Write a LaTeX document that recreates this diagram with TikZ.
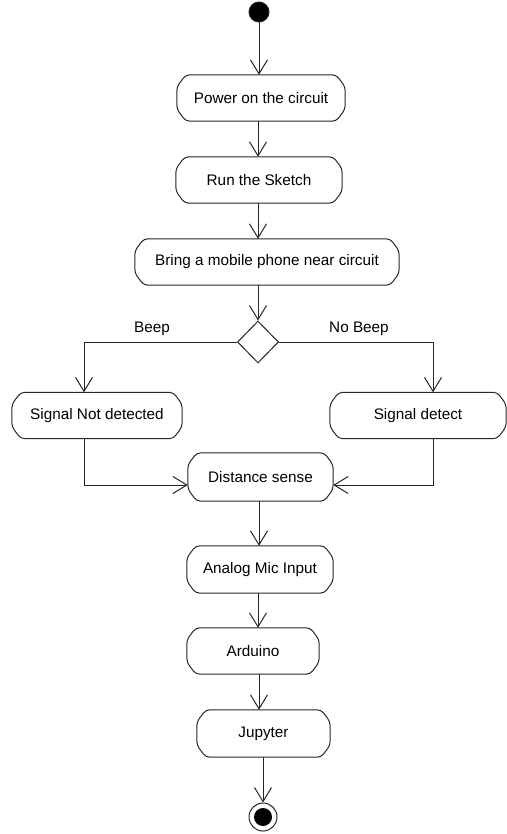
\documentclass[tikz,border=0pt]{standalone}
\usepackage{fontspec}
\setmainfont{Liberation Sans}
\usetikzlibrary{arrows.meta,shapes.geometric}
\tikzset{
  act/.style={draw=none, minimum width=#1, minimum height=46pt, inner sep=0pt, font=\fontsize{15.3}{18}\selectfont},
  flow/.style={draw=black!85, line width=1pt, -{Straight Barb[length=14pt,width=17pt,line width=1pt]}},
  edge/.style={draw=black!85, line width=1pt},
  lbl/.style={font=\fontsize{15.3}{18}\selectfont, inner sep=0pt},
}
\newcommand\actoutline[1]{%
  \draw[edge, rounded corners=4pt]
    ([xshift=9pt]#1.north west) -- ([xshift=-9pt]#1.north east)
    -- ([yshift=-12pt]#1.north east) -- ([yshift=12pt]#1.south east)
    -- ([xshift=-9pt]#1.south east) -- ([xshift=9pt]#1.south west)
    -- ([yshift=12pt]#1.south west) -- ([yshift=-12pt]#1.north west) -- cycle;}
\begin{document}
\begin{tikzpicture}[x=1pt,y=-1pt]
\useasboundingbox (0,0) rectangle (506,834);
% start
\node[circle, fill=black, draw=black!85, line width=1pt, minimum size=20pt, inner sep=0pt] (start) at (259,12) {};
% activities
\node[act=168pt] (power) at (261,98) {Power on the circuit};
\node[act=166pt] (run) at (259,180) {Run the Sketch};
\node[act=264pt] (bring) at (267,262) {Bring a mobile phone near circuit};
\node[draw=black!85, line width=1pt, fill=white, diamond, minimum width=41pt, minimum height=42pt, inner sep=0pt] (dec) at (258,342) {};
\node[act=170pt] (notdet) at (97,415.5) {Signal Not detected};
\node[act=176pt] (det) at (418,415.5) {Signal detect};
\node[act=145pt, minimum height=48pt] (dist) at (260.5,477) {Distance sense};
\node[act=146pt, minimum height=47pt] (analog) at (260,569.5) {Analog Mic Input};
\node[act=132pt] (ard) at (253,651) {Arduino};
\node[act=133pt, minimum height=47pt] (jup) at (263.5,733.5) {Jupyter};
% end
\node[circle, draw=black!85, line width=1pt, fill=white, minimum size=28pt, inner sep=0pt] (end) at (263,817) {};
\node[circle, fill=black, minimum size=18pt, inner sep=0pt] (endin) at (end) {};
\foreach \n in {power,run,bring,notdet,det,dist,analog,ard,jup} {\actoutline{\n}}
% labels
\node[lbl] (beep) at (152,329) {Beep};
\node[lbl] (nobeep) at (359,329) {No Beep};
% coordinates
\coordinate (lx) at (84,0);
\coordinate (rx) at (433,0);
\coordinate (my) at (0,485);
% connectors
\draw[flow] (start) -- (power.north -| start);
\draw[flow] (power.south -| 258,0) -- (run.north -| 258,0);
\draw[flow] (run.south -| 258,0) -- (bring.north -| 258,0);
\draw[flow] (bring.south -| 258,0) -- (dec.north);
\draw[flow] (dec.west) -| (notdet.north -| lx);
\draw[flow] (dec.east) -| (det.north -| rx);
\draw[flow] (notdet.south -| lx) |- (dist.west |- my);
\draw[flow] (det.south -| rx) |- (dist.east |- my);
\draw[flow] (dist.south -| 259,0) -- (analog.north -| 259,0);
\draw[flow] (analog.south -| 258,0) -- (ard.north -| 258,0);
\draw[flow] (ard.south -| 259,0) -- (jup.north -| 259,0);
\draw[flow] (jup.south -| end) -- (end.north);
\end{tikzpicture}
\end{document}
